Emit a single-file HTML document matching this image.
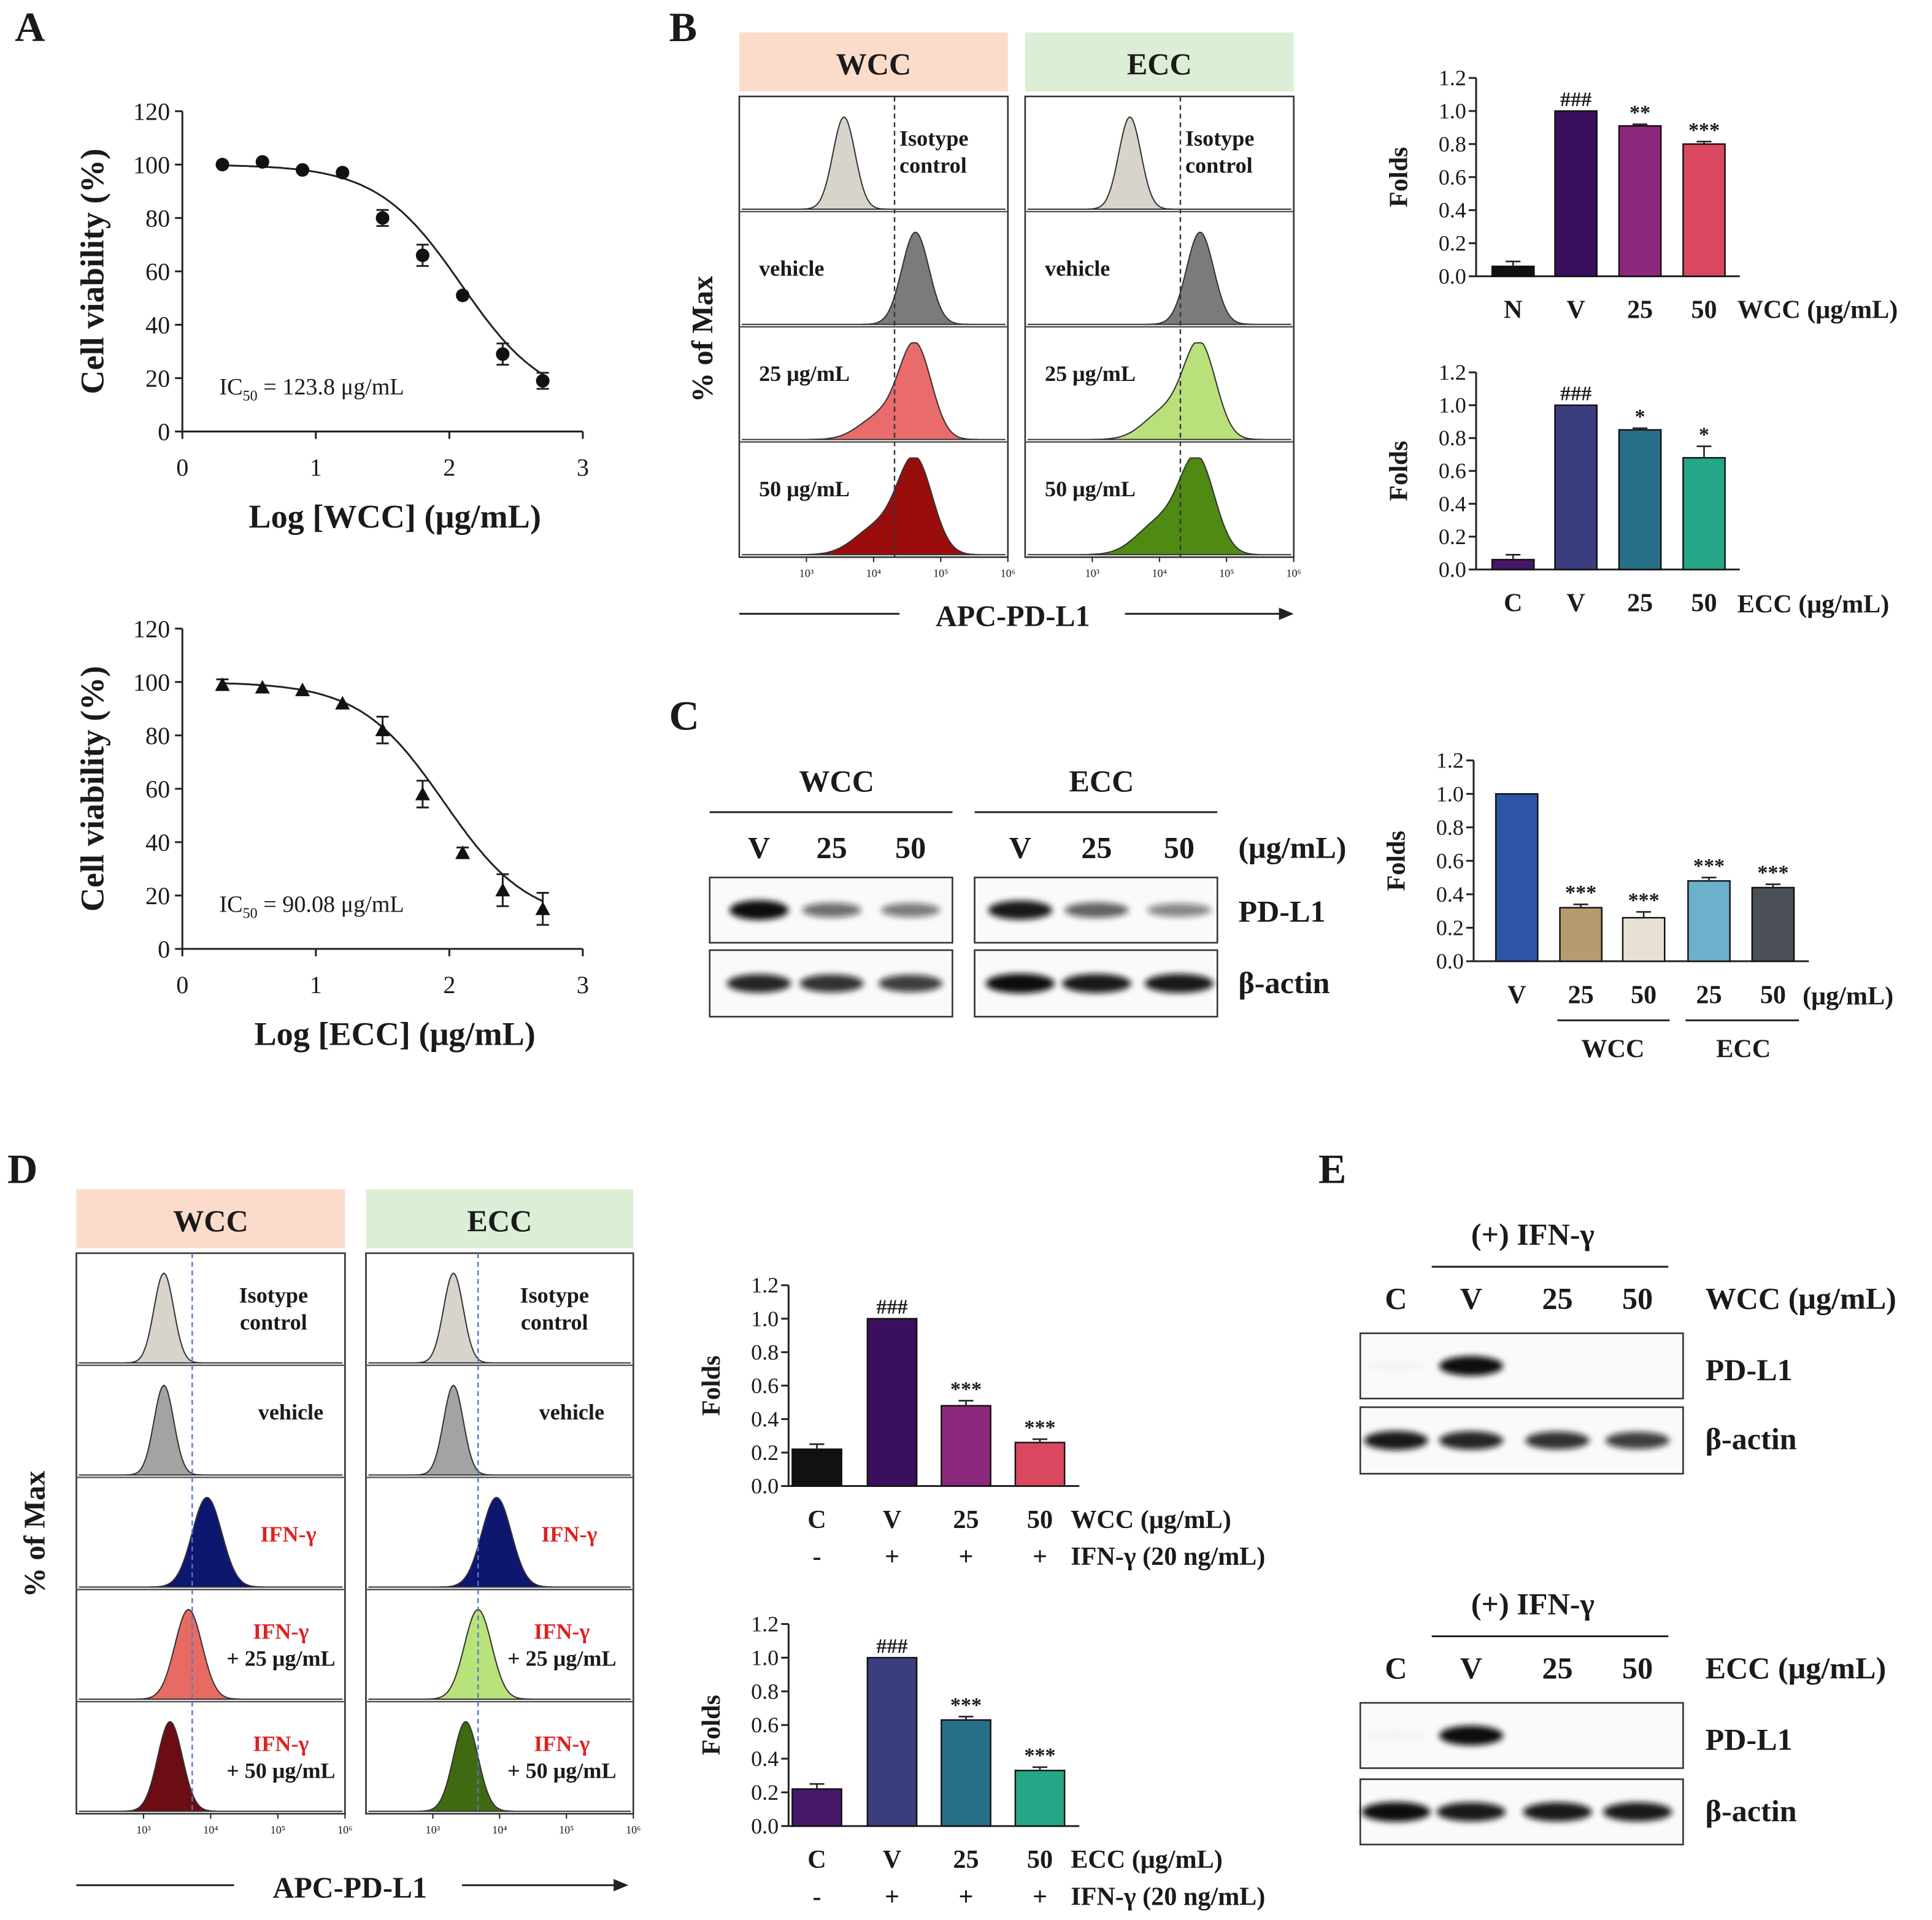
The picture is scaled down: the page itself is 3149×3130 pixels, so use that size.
<!DOCTYPE html>
<html><head><meta charset="utf-8"><style>
html,body{margin:0;padding:0;background:#fff}
svg{display:block}
text{font-family:"Liberation Serif",serif}
</style></head><body>
<svg id="fig" xmlns="http://www.w3.org/2000/svg" width="3149" height="3130" viewBox="0 0 1568 1558">
<rect width="1568" height="1558" fill="#fff"/>
<g id="root"></g>
</svg>
<script>
// ---------- DATA ----------
const aLogX = [0.3,0.6,0.9,1.2,1.5,1.8,2.1,2.4,2.7];
const aWccViab = [100,101,98,97,80,66,51,29,19];
const aWccErr = [0,0,0,0,3,4,0,4,3];
const aEccViab = [99,98,97,92,82,58,36,22,15];
const aEccErr = [2,0,0,0,5,5,2,6,6];
const yTicks120 = [0,20,40,60,80,100,120];
const xTicks3 = [0,1,2,3];
const foldTicks = [0,0.2,0.4,0.6,0.8,1.0,1.2];
const bTopCats = ["N","V","25","50"];
const bTopVals = [0.06,1.0,0.91,0.80];
const bTopErr = [0.03,0,0.01,0.015];
const bTopSig = ["","###","**","***"];
const bBotCats = ["C","V","25","50"];
const bBotVals = [0.06,1.0,0.85,0.68];
const bBotErr = [0.03,0,0.01,0.07];
const bBotSig = ["","###","*","*"];
const cCats = ["V","25","50","25","50"];
const cVals = [1.0,0.32,0.26,0.48,0.44];
const cErr = [0,0.02,0.035,0.02,0.02];
const cSig = ["","***","***","***","***"];
const dTopCats = ["C","V","25","50"];
const dTopVals = [0.22,1.0,0.48,0.26];
const dTopErr = [0.03,0,0.03,0.02];
const dTopSig = ["","###","***","***"];
const dBotCats = ["C","V","25","50"];
const dBotVals = [0.22,1.0,0.63,0.33];
const dBotErr = [0.03,0,0.02,0.02];
const dBotSig = ["","###","***","***"];

// ---------- helpers ----------
const NS="http://www.w3.org/2000/svg";
const root=document.getElementById('root');
function el(tag,attrs,parent,txt){const e=document.createElementNS(NS,tag);for(const k in attrs)e.setAttribute(k,attrs[k]);if(txt!==undefined)e.textContent=txt;(parent||root).appendChild(e);return e;}
function T(x,y,s,size,opts,parent){opts=opts||{};const t=el('text',{x:x,y:y,'font-size':size,'text-anchor':opts.anchor||'middle','font-weight':opts.bold===false?'normal':'bold',fill:opts.fill||'#1a1a1a'},parent,s);


if(opts.rot)t.setAttribute('transform','rotate(-90 '+x+' '+y+')');return t;}
function L(x1,y1,x2,y2,w,parent,extra){const l=el('line',Object.assign({x1,y1,x2,y2,stroke:'#222','stroke-width':w||1.5},extra||{}),parent);return l;}

[["A",12,33],["B",543,33],["C",543,592],["D",6,960],["E",1070,960]].forEach(p=>{T(p[1],p[2],p[0],34,{anchor:'start',name:'panel-label-'+p[0].toLowerCase()});});

// ---------- Panel A dose-response ----------
function doseChart(name,x0,x1,y0,y1,vals,errs,marker,ic50,label,xlabel,ylabY,ic50Text){
  const g=el('g',{});
  const sx=v=>x0+(x1-x0)*v/3, sy=v=>y0-(y0-y1)*v/120;
  L(x0,y0,x1,y0,1.5,g);L(x0,y0,x0,y1,1.5,g);
  yTicks120.forEach(t=>{L(x0-6,sy(t),x0,sy(t),1.5,g);T(x0-10,sy(t)+7,String(t),20,{anchor:'end',bold:false,name:'y-tick-label'},g);});
  xTicks3.forEach(t=>{L(sx(t),y0,sx(t),y0+6,1.5,g);T(sx(t),y0+36,String(t),20,{bold:false,name:'x-tick-label'},g);});
  let d='';const top=100,bot=10,h=1.1;
  for(let v=0.3;v<=2.701;v+=0.02){const y=bot+(top-bot)/(1+Math.pow(10,(v-ic50)*h*1.25));d+=(d?'L':'M')+sx(v).toFixed(1)+','+sy(y).toFixed(1);}
  const c=el('path',{d:d,fill:'none',stroke:'#222','stroke-width':1.5},g);
  aLogX.forEach((v,i)=>{const cx=sx(v),cy=sy(vals[i]);
    if(errs[i]>0){L(cx,sy(vals[i]+errs[i]),cx,sy(vals[i]-errs[i]),1.5,g);L(cx-5,sy(vals[i]+errs[i]),cx+5,sy(vals[i]+errs[i]),1.5,g);L(cx-5,sy(vals[i]-errs[i]),cx+5,sy(vals[i]-errs[i]),1.5,g);}
    let m;if(marker==='circle')m=el('circle',{cx:cx,cy:cy,r:5.5,fill:'#111'},g);
    else m=el('path',{d:`M${cx},${cy-6}L${cx+6},${cy+5}L${cx-6},${cy+5}Z`,fill:'#111'},g);
    });
  T(84,(y0+y1)/2,'Cell viability (%)',27,{rot:true,name:'y-axis-title'},g);
  T((x0+x1)/2+10,y0+78,xlabel,27,{name:'x-axis-title'},g);
  const t=T(178,y0-30,'',19,{anchor:'start',bold:false,name:'ic50-label'},g);
  t.innerHTML='IC<tspan font-size="12" dy="5">50</tspan><tspan dy="-5"> = '+ic50Text+' μg/mL</tspan>';
}
doseChart('wcc-viability-chart',148,473,350,90,aWccViab,aWccErr,'circle',2.09,'','Log [WCC] (μg/mL)',0,'123.8');
doseChart('ecc-viability-chart',148,473,770,510,aEccViab,aEccErr,'triangle',1.96,'','Log [ECC] (μg/mL)',0,'90.08');

// ---------- Bar charts ----------
function barChart(name,ax,x0axis,y0,y1,cats,vals,errs,sigs,colors,xs,bw){
  const g=el('g',{});
  const sy=v=>y0-(y0-y1)*v/1.2;
  const xEnd=xs[xs.length-1]+bw/2+12;
  L(x0axis,y0,x0axis,y1,1.5,g);L(x0axis,y0,xEnd,y0,1.5,g);
  foldTicks.forEach(t=>{L(x0axis-6,sy(t),x0axis,sy(t),1.5,g);T(x0axis-8,sy(t)+6,t.toFixed(1),18,{anchor:'end',bold:false,name:'y-tick-label'},g);});
  T(x0axis-56,(y0+y1)/2,'Folds',21,{rot:true,name:'y-axis-title'},g);
  cats.forEach((c,i)=>{const cx=xs[i];const top=sy(vals[i]);
    const r=el('rect',{x:cx-bw/2,y:top,width:bw,height:y0-top,fill:colors[i],stroke:'#111','stroke-width':1.2},g);
    
    if(errs[i]>0){const ey=sy(vals[i]+errs[i]);L(cx,top,cx,ey,1.3,g);L(cx-6,ey,cx+6,ey,1.3,g);}
    if(sigs[i])T(cx,sy(vals[i]+errs[i])-4,sigs[i],17,{name:'significance-mark'},g);
    T(cx,y0+34,c,21,{name:'x-tick-label'},g);});
  return g;
}
const bx=[1228,1279,1331,1383];
const g1=barChart('wcc-flow-bar-chart',0,1198,224,63,bTopCats,bTopVals,bTopErr,bTopSig,['#111','#3a0f5e','#8b277c','#d9485f'],bx,34);
T(1410,258,'WCC (μg/mL)',21,{anchor:'start',name:'x-axis-title'},g1);
const g2=barChart('ecc-flow-bar-chart',0,1198,462,302,bBotCats,bBotVals,bBotErr,bBotSig,['#461868','#3a3e7f','#286e86','#24a687'],bx,34);
T(1410,497,'ECC (μg/mL)',21,{anchor:'start',name:'x-axis-title'},g2);
const g3=barChart('western-quant-bar-chart',0,1196,780,617,cCats,cVals,cErr,cSig,['#2c56a5','#b59b6d','#e6e1d2','#6cb0cc','#4a4e55'],[1231,1283,1334,1387,1439],34);
T(1463,815,'(μg/mL)',21,{anchor:'start',name:'x-axis-unit'},g3);
L(1264,828,1355,828,1.5,g3);L(1368,828,1460,828,1.5,g3);
T(1309,858,'WCC',21,{name:'group-label'},g3);T(1415,858,'ECC',21,{name:'group-label'},g3);
const dx=[663,724,784,844];
const g4=barChart('wcc-ifn-bar-chart',0,640,1206,1043,dTopCats,dTopVals,dTopErr,dTopSig,['#111','#3a0f5e','#8b277c','#d9485f'],dx,40);
T(869,1240,'WCC (μg/mL)',21,{anchor:'start',name:'x-axis-title'},g4);
['-','+','+','+'].forEach((s,i)=>T(dx[i],1270,s,21,{name:'ifn-sign'},g4));
T(869,1270,'IFN-γ (20 ng/mL)',21,{anchor:'start',name:'ifn-label'},g4);
const g5=barChart('ecc-ifn-bar-chart',0,640,1482,1318,dBotCats,dBotVals,dBotErr,dBotSig,['#461868','#3a3e7f','#286e86','#24a687'],dx,40);
T(869,1516,'ECC (μg/mL)',21,{anchor:'start',name:'x-axis-title'},g5);
['-','+','+','+'].forEach((s,i)=>T(dx[i],1546,s,21,{name:'ifn-sign'},g5));
T(869,1546,'IFN-γ (20 ng/mL)',21,{anchor:'start',name:'ifn-label'},g5);

// ---------- Flow histograms ----------
function hist(g,x0,x1,yb,h,center,sig,fill,shoulder){
  let d=`M${x0},${yb}`;
  for(let x=x0;x<=x1;x+=1.5){let y=Math.exp(-Math.pow((x-center)/sig,2)/2);
    if(shoulder)y+=shoulder*Math.exp(-Math.pow((x-center+sig*2.2)/(sig*1.3),2)/2);
    d+=`L${x.toFixed(1)},${(yb-h*Math.min(y,1.05)).toFixed(1)}`;}
  d+=`L${x1},${yb}Z`;
  const p=el('path',{d:d,fill:fill,stroke:'#333','stroke-width':1},g);
}
function flowPanel(name,x0,x1,yTop,rows,header,headerFill,dashX,dashColor,rowDefs,axisLabels){
  const g=el('g',{});
  const hr=el('rect',{x:x0,y:yTop-52,width:x1-x0,height:48,fill:headerFill},g);
  T((x0+x1)/2,yTop-18,header,25,{name:'header-label'},g);
  const rh=rows;
  rowDefs.forEach((r,i)=>{const yb=yTop+(i+1)*rh;hist(g,x0+2,x1-2,yb-2,rh*0.8,r.c,r.s,r.fill,r.sh);
    r.lab.forEach((t,j)=>T(r.lx,yTop+i*rh+r.ly+j*22,t,r.size||18,{anchor:r.anchor||'start',fill:(r.red&&j===0)?'#e02020':'#1a1a1a',name:'row-label'},g));});
  const n=rowDefs.length;
  el('rect',{x:x0,y:yTop,width:x1-x0,height:n*rh,fill:'none',stroke:'#333','stroke-width':1.3},g);
  for(let i=1;i<n;i++)L(x0,yTop+i*rh,x1,yTop+i*rh,1.2,g,{stroke:'#555'});
  L(dashX,yTop,dashX,yTop+n*rh,1.2,g,{stroke:dashColor,'stroke-dasharray':'4,3'});
  const yb=yTop+n*rh;
  [0.25,0.5,0.75,1.0].forEach((f,k)=>{const x=x0+(x1-x0)*f;L(x,yb,x,yb+4,1,g);T(x,yb+16,axisLabels[k],9,{bold:false,name:'x-tick-label'},g);});
  return g;
}
const grey='#d9d4cb',dgrey='#7b7b7b';
const bRowsW=[
 {c:685,s:9,fill:grey,lab:['Isotype','control'],lx:730,ly:40,size:18},
 {c:743,s:11,fill:dgrey,lab:['vehicle'],lx:616,ly:52},
 {c:743,s:13,fill:'#e96b6b',sh:0.25,lab:['25 μg/mL'],lx:616,ly:44},
 {c:743,s:14,fill:'#9a0d0d',sh:0.3,lab:['50 μg/mL'],lx:616,ly:44}];
flowPanel('wcc-flow-histograms',600,818,78,93.5,'WCC','#fbdccb',726,'#333',bRowsW,['10³','10⁴','10⁵','10⁶']);
const bRowsE=[
 {c:917,s:9,fill:grey,lab:['Isotype','control'],lx:962,ly:40,size:18},
 {c:974,s:11,fill:dgrey,lab:['vehicle'],lx:848,ly:52},
 {c:974,s:13,fill:'#b9e07a',sh:0.3,lab:['25 μg/mL'],lx:848,ly:44},
 {c:972,s:14,fill:'#4f8a12',sh:0.35,lab:['50 μg/mL'],lx:848,ly:44}];
flowPanel('ecc-flow-histograms',832,1050,78,93.5,'ECC','#dcefd6',958,'#333',bRowsE,['10³','10⁴','10⁵','10⁶']);
T(578,275,'% of Max',24,{rot:true,name:'y-axis-title'});
T(822,508,'APC-PD-L1',24,{name:'x-axis-title'});
L(600,498,730,498,1.5);L(913,498,1045,498,1.5);el('path',{d:'M1050,498 l-12,-5 v10z',fill:'#222'});

const dRowsW=[
 {c:133,s:8,fill:grey,lab:['Isotype','control'],lx:222,ly:40,anchor:'middle'},
 {c:133,s:8,fill:'#a3a3a3',lab:['vehicle'],lx:236,ly:44,anchor:'middle'},
 {c:168,s:12,fill:'#0d1770',lab:['IFN-γ'],lx:234,ly:52,anchor:'middle',red:true},
 {c:153,s:11,fill:'#e86b63',lab:['IFN-γ','+ 25 μg/mL'],lx:228,ly:40,anchor:'middle',red:true},
 {c:138,s:10,fill:'#6b0d12',lab:['IFN-γ','+ 50 μg/mL'],lx:228,ly:40,anchor:'middle',red:true}];
flowPanel('wcc-ifn-flow-histograms',62,280,1017,91,'WCC','#fbdccb',156,'#5577cc',dRowsW,['10³','10⁴','10⁵','10⁶']);
const dRowsE=[
 {c:368,s:8,fill:grey,lab:['Isotype','control'],lx:450,ly:40,anchor:'middle'},
 {c:368,s:8,fill:'#a3a3a3',lab:['vehicle'],lx:464,ly:44,anchor:'middle'},
 {c:403,s:12,fill:'#0d1770',lab:['IFN-γ'],lx:462,ly:52,anchor:'middle',red:true},
 {c:388,s:11,fill:'#b8e27a',lab:['IFN-γ','+ 25 μg/mL'],lx:456,ly:40,anchor:'middle',red:true},
 {c:378,s:10,fill:'#3f6a12',lab:['IFN-γ','+ 50 μg/mL'],lx:456,ly:40,anchor:'middle',red:true}];
flowPanel('ecc-ifn-flow-histograms',297,514,1017,91,'ECC','#dcefd6',388,'#5577cc',dRowsE,['10³','10⁴','10⁵','10⁶']);
T(36,1245,'% of Max',24,{rot:true,name:'y-axis-title'});
T(284,1540,'APC-PD-L1',24,{name:'x-axis-title'});
L(62,1530,190,1530,1.5);L(375,1530,505,1530,1.5);el('path',{d:'M510,1530 l-12,-5 v10z',fill:'#222'});

// ---------- Western blots ----------
const defs=el('defs',{});
const f=el('filter',{id:'blur',x:'-50%',y:'-50%',width:'200%',height:'200%'},defs);el('feGaussianBlur',{stdDeviation:'2.5'},f);
function blot(name,x0,x1,y0,y1,lanes,ints,bw){
  const g=el('g',{});
  el('rect',{x:x0,y:y0,width:x1-x0,height:y1-y0,fill:'#fafafa',stroke:'#333','stroke-width':1.3},g);
  lanes.forEach((x,i)=>{if(ints[i]<=0.02)return;const b=el('ellipse',{cx:x,cy:(y0+y1)/2,rx:bw/2,ry:3+5*ints[i],fill:'#111','fill-opacity':Math.min(1,ints[i]),filter:'url(#blur)'},g);});
}
const cl1=[616,675,739],cl2=[828,890,957];
blot('wcc-pdl1-blot',576,773,712,765,cl1,[1,0.6,0.55],48);
blot('wcc-actin-blot',576,773,771,825,cl1,[0.9,0.85,0.8],52);
blot('ecc-pdl1-blot',791,988,712,765,cl2,[0.95,0.65,0.5],52);
blot('ecc-actin-blot',791,988,771,825,cl2,[1,0.95,0.95],56);
T(679,642,'WCC',25,{name:'group-label'});T(894,642,'ECC',25,{name:'group-label'});
L(576,659,773,659,1.5);L(791,659,988,659,1.5);
["V","25","50"].forEach((s,i)=>{T(cl1[i],696,s,25,{name:'lane-label'});T(cl2[i],696,s,25,{name:'lane-label'});});
T(1005,696,'(μg/mL)',25,{anchor:'start',name:'unit-label'});
T(1005,748,'PD-L1',25,{anchor:'start',name:'pdl1-label'});T(1005,806,'β-actin',25,{anchor:'start',name:'actin-label'});

const el1=[1133,1194,1264,1329];
blot('e-wcc-pdl1-blot',1104,1366,1082,1135,el1,[0.03,1,0,0],52);
blot('e-wcc-actin-blot',1104,1366,1142,1196,el1,[0.95,0.9,0.85,0.8],52);
blot('e-ecc-pdl1-blot',1104,1366,1382,1435,el1,[0.03,1,0,0],52);
blot('e-ecc-actin-blot',1104,1366,1444,1497,el1,[1,0.95,0.95,0.95],56);
[[1010,1066,1062,'WCC (μg/mL)',1110,1170],[1310,1366,1362,'ECC (μg/mL)',1410,1472]].forEach(r=>{
  T(1244,r[0],'(+) IFN-γ',25,{name:'ifn-header'});L(1162,r[1]-38,1354,r[1]-38,1.5);
  ["C","V","25","50"].forEach((s,i)=>T(el1[i],r[2],s,25,{name:'lane-label'}));
  T(1384,r[2],r[3],25,{anchor:'start',name:'unit-label'});
  T(1384,r[4]+10,'PD-L1',25,{anchor:'start',name:'pdl1-label'});T(1384,r[5]+6,'β-actin',25,{anchor:'start',name:'actin-label'});
});
</script>
</body></html>
